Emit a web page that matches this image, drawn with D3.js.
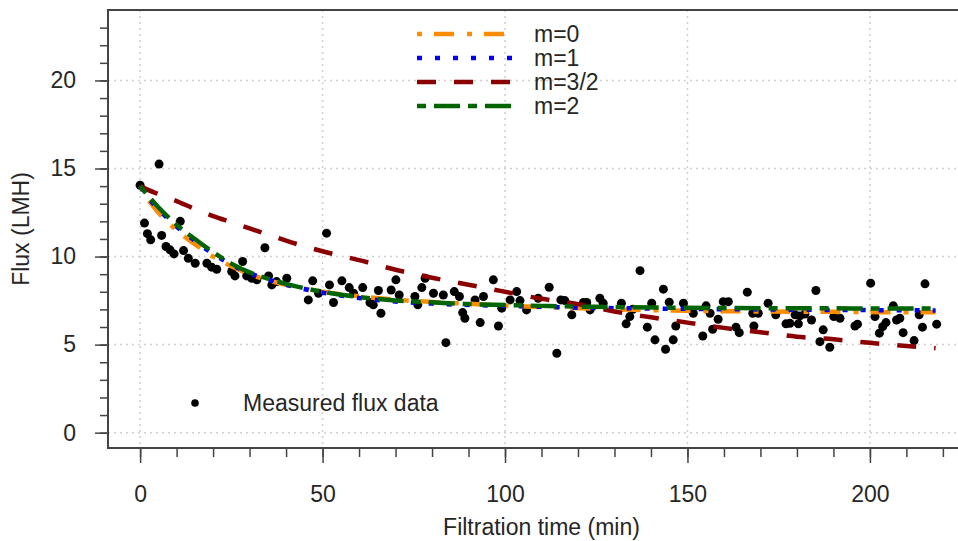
<!DOCTYPE html>
<html>
<head>
<meta charset="utf-8">
<script src="https://cdn.jsdelivr.net/npm/d3@7"></script>
<style>
  html, body { margin: 0; padding: 0; background: #fff; }
  svg { display: block; font-family: "Liberation Sans", Arial, sans-serif; }
</style>
</head>
<body>
<svg id="chart" width="958" height="541"></svg>
<script>
// measured flux data (time in min, flux in LMH)
const timeData = [0, 1.2, 2.0, 2.9, 5.2, 5.9, 7.1, 8.2, 9.3, 11.0, 11.9, 13.2, 15.1, 18.3, 19.6, 21.0,
  25.1, 26.0, 28.1, 29.2, 30.6, 32.0, 34.2, 35.2, 36.1, 37.4, 40.2, 46.1, 47.3, 48.9, 51.1, 51.9,
  53.0, 55.3, 57.3, 58.5, 61.0, 63.0, 63.9, 65.3, 66.0, 68.8, 70.1, 71.0, 75.3, 76.1, 77.2, 78.1,
  80.4, 83.1, 83.8, 86.1, 87.5, 88.4, 89.0, 91.8, 93.2, 94.1, 96.8, 98.2, 99.1, 101.4, 103.2, 104.1,
  105.9, 109.1, 112.1, 114.2, 115.3, 116.4, 118.3, 121.5, 122.4, 123.3, 126.0, 126.9, 131.9, 133.2,
  134.2, 135.0, 137.0, 139.0, 140.2, 141.1, 143.4, 144.0, 145.0, 146.1, 146.8, 148.9, 151.6, 154.2,
  155.1, 156.2, 156.9, 158.4, 159.8, 161.2, 163.3, 164.2, 166.4, 167.9, 168.2, 169.4, 172.1, 174.2,
  177.0, 178.1, 179.5, 180.4, 180.8, 182.2, 184.0, 185.2, 186.3, 187.2, 189.0, 190.1, 191.8, 195.9,
  196.6, 200.2, 201.4, 202.6, 203.5, 204.4, 206.4, 207.3, 208.2, 209.1, 212.1, 213.5, 214.4, 215.1, 218.3];
const fluxData = [14.05, 11.9, 11.3, 10.95, 15.25, 11.2, 10.57, 10.38, 10.15, 12.0, 10.34, 9.9, 9.62, 9.62, 9.4, 9.28,
  9.15, 8.9, 9.72, 8.9, 8.77, 8.68, 10.5, 8.9, 8.39, 8.58, 8.77, 7.54, 8.62, 7.92, 11.33, 8.39,
  7.39, 8.62, 8.24, 7.92, 8.24, 7.39, 7.26, 8.07, 6.78, 8.1, 8.68, 7.82, 7.73, 7.26, 8.24, 8.77,
  7.92, 7.82, 5.11, 8.01, 7.73, 6.82, 6.5, 7.54, 6.25, 7.73, 8.68, 6.06, 7.07, 7.54, 8.01, 7.5,
  6.97, 7.63, 8.26, 4.51, 7.54, 7.5, 6.69, 7.39, 7.39, 6.97, 7.63, 7.35, 7.35, 6.18,
  6.59, 7.01, 9.2, 5.99, 7.35, 5.27, 8.15, 4.74, 7.41, 5.27, 6.06, 7.35, 6.78, 5.49,
  7.2, 6.78, 5.87, 6.44, 7.44, 7.44, 5.99, 5.68, 7.98, 6.78, 6.06, 6.78, 7.35, 6.69,
  6.18, 6.21, 6.69, 6.18, 6.63, 6.74, 6.4, 8.07, 5.17, 5.84, 4.85, 6.59, 6.5, 6.06,
  6.16, 8.49, 6.59, 5.65, 6.02, 6.25, 7.2, 6.4, 6.5, 5.68, 5.23, 6.69, 5.99, 8.45, 6.16];

// model fits
const fitTime = [0, 2, 5, 10, 15, 20, 25, 30, 35, 40, 50, 60, 70, 80, 90, 100, 110, 120, 130, 140, 150, 160, 170, 180, 190, 200, 210, 218];
const fitM0  = [14.0, 13.3, 12.5, 11.5, 10.7, 10.0, 9.45, 9.0, 8.65, 8.4, 8.0, 7.75, 7.55, 7.42, 7.32, 7.22, 7.14, 7.07, 7.0, 6.96, 6.92, 6.9, 6.88, 6.87, 6.86, 6.85, 6.84, 6.84];
const fitM1  = [14.0, 13.4, 12.7, 11.7, 10.9, 10.15, 9.55, 9.05, 8.7, 8.4, 7.95, 7.65, 7.45, 7.33, 7.25, 7.2, 7.15, 7.1, 7.07, 7.05, 7.03, 7.01, 7.0, 6.98, 6.97, 6.96, 6.95, 6.94];
const fitM32 = [14.0, 13.8, 13.55, 13.15, 12.7, 12.3, 11.95, 11.6, 11.25, 10.9, 10.3, 9.8, 9.25, 8.8, 8.4, 8.0, 7.6, 7.3, 6.88, 6.55, 6.25, 5.95, 5.7, 5.45, 5.3, 5.1, 4.92, 4.8];
const fitM2  = [14.0, 13.5, 12.8, 11.8, 11.0, 10.25, 9.6, 9.1, 8.75, 8.45, 8.0, 7.7, 7.5, 7.4, 7.3, 7.25, 7.2, 7.16, 7.13, 7.11, 7.09, 7.08, 7.07, 7.06, 7.06, 7.05, 7.05, 7.05];

const xMajor = [0, 50, 100, 150, 200];
const yMajor = [0, 5, 10, 15, 20];

const fits = [
  { label: "m=0",   values: fitM0,  color: "#ff8c00", dash: "5,12,20,13" },
  { label: "m=1",   values: fitM1,  color: "#0000ff", dash: "5,13" },
  { label: "m=3/2", values: fitM32, color: "#8b0000", dash: "19,18" },
  { label: "m=2",   values: fitM2,  color: "#006400", dash: "9,8,26,8" }
]

const svg = d3.select("#chart")
const textColor = "#262626"
const axisColor = "#444"

const x = d3.scaleLinear().domain([-8.8, 228.8]).range([108, 975])
const y = d3.scaleLinear().domain([-0.87, 24.0]).range([448, 10])

svg.append("rect").attr("width", 958).attr("height", 541).attr("fill", "#fff")

// grid
const grid = svg.append("g")
grid.selectAll(".gx")
  .data(xMajor)
  .join("line")
  .attr("x1", d => x(d)).attr("x2", d => x(d))
  .attr("y1", y.range()[1]).attr("y2", y.range()[0])
grid.selectAll(".gy")
  .data(yMajor)
  .join("line")
  .attr("y1", d => y(d)).attr("y2", d => y(d))
  .attr("x1", x.range()[0]).attr("x2", x.range()[1])
grid.selectAll("line")
  .attr("stroke", "#cfcfcf")
  .attr("stroke-width", 1.5)
  .attr("stroke-dasharray", "2,4")

// measured points
const points = timeData.map((t, i) => ({ t: t, v: fluxData[i] }))
svg.append("g")
  .selectAll("circle")
  .data(points)
  .join("circle")
  .attr("cx", d => x(d.t))
  .attr("cy", d => y(d.v))
  .attr("r", 4.5)
  .attr("fill", "#000")

// fitted curves
const line = d3.line()
  .x((d, i) => x(fitTime[i]))
  .y(d => y(d))
  .curve(d3.curveMonotoneX)

svg.append("g")
  .selectAll("path")
  .data(fits)
  .join("path")
  .attr("d", d => line(d.values))
  .attr("fill", "none")
  .attr("stroke", d => d.color)
  .attr("stroke-width", 4.5)
  .attr("stroke-dasharray", d => d.dash)

// axes
const xAxisMinor = d3.axisBottom(x).tickValues(d3.range(0, 221, 10)).tickSize(9).tickFormat("")
const xAxisMajor = d3.axisBottom(x).tickValues(xMajor).tickSize(15).tickPadding(23)
const yAxisMinor = d3.axisLeft(y).tickValues(d3.range(0, 24, 1)).tickSize(8).tickFormat("")
const yAxisMajor = d3.axisLeft(y).tickValues(yMajor).tickSize(13).tickPadding(19)

function styleAxis(g) {
  g.select(".domain").remove()
  g.selectAll("line").attr("stroke", axisColor).attr("stroke-width", 1.5)
  g.selectAll("text")
    .attr("fill", textColor)
    .style("font-size", "23px")
    .style("font-family", "'Liberation Sans', Arial, sans-serif")
}

svg.append("g").attr("transform", "translate(0,448)").call(xAxisMinor).call(styleAxis)
svg.append("g").attr("transform", "translate(0,448)").call(xAxisMajor).call(styleAxis)
svg.append("g").attr("transform", "translate(108,0)").call(yAxisMinor).call(styleAxis)
svg.append("g").attr("transform", "translate(108,0)").call(yAxisMajor).call(styleAxis)

// plot box
svg.append("rect")
  .attr("x", x.range()[0])
  .attr("y", y.range()[1])
  .attr("width", x.range()[1] - x.range()[0])
  .attr("height", y.range()[0] - y.range()[1])
  .attr("fill", "none")
  .attr("stroke", axisColor)
  .attr("stroke-width", 2)

// axis titles
svg.append("text")
  .attr("x", (x.range()[0] + x.range()[1]) / 2)
  .attr("y", 535)
  .attr("text-anchor", "middle")
  .attr("fill", textColor)
  .style("font-size", "23px")
  .text("Filtration time (min)")

svg.append("text")
  .attr("transform", `translate(29,${(y.range()[0] + y.range()[1]) / 2}) rotate(-90)`)
  .attr("text-anchor", "middle")
  .attr("fill", textColor)
  .style("font-size", "23px")
  .text("Flux (LMH)")

// legend for fits
const legend = svg.append("g")
const legendRows = legend.selectAll("g")
  .data(fits)
  .join("g")
  .attr("transform", (d, i) => `translate(417,${34 + i * 24})`)
legendRows.append("line")
  .attr("x1", 0).attr("x2", 100)
  .attr("stroke", d => d.color)
  .attr("stroke-width", 4.5)
  .attr("stroke-dasharray", d => d.dash)
legendRows.append("text")
  .attr("x", 117)
  .attr("dy", "0.35em")
  .attr("fill", textColor)
  .style("font-size", "23px")
  .text(d => d.label)

// legend for measured data
svg.append("circle").attr("cx", 195).attr("cy", 403).attr("r", 3.8).attr("fill", "#000")
svg.append("text")
  .attr("x", 243)
  .attr("y", 403)
  .attr("dy", "0.35em")
  .attr("fill", textColor)
  .style("font-size", "23px")
  .text("Measured flux data")
</script>
</body>
</html>
